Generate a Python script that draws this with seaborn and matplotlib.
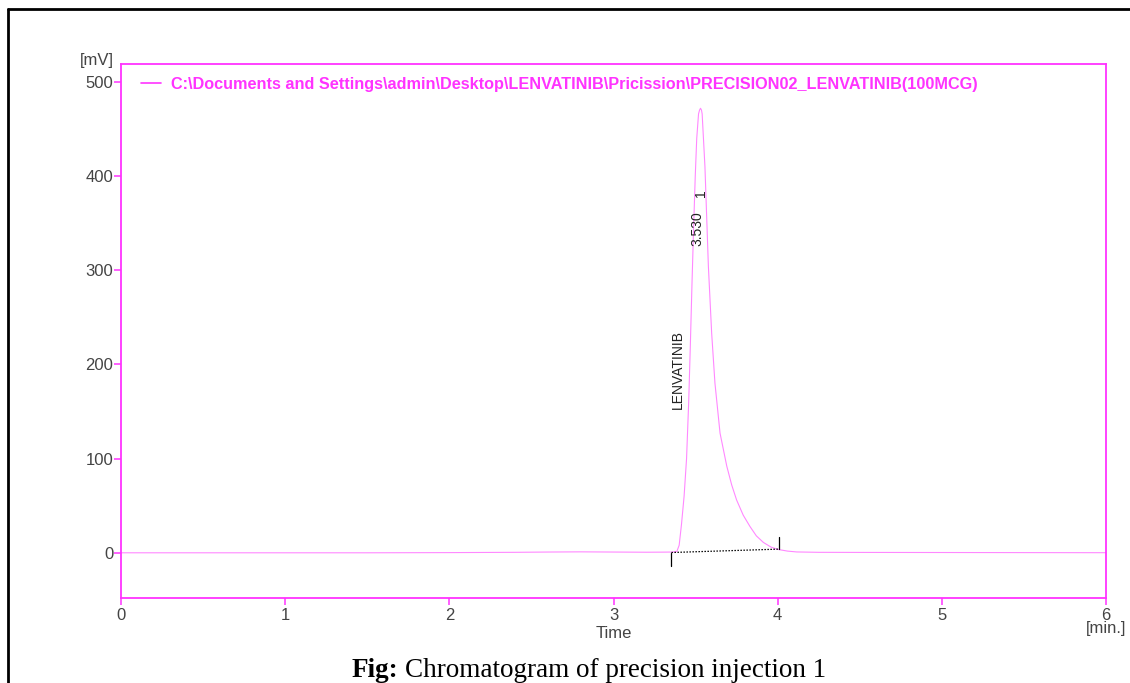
import matplotlib
matplotlib.use("Agg")
import matplotlib.pyplot as plt
from matplotlib.lines import Line2D
import seaborn as sns
import pandas as pd

# ---- data ----
time_min = [0.0, 0.5, 1.0, 1.5, 2.0, 2.4, 2.6, 2.8, 3.0, 3.2, 3.3, 3.36,
            3.386, 3.40, 3.414, 3.43, 3.445, 3.458, 3.468, 3.478, 3.488,
            3.498, 3.507, 3.518, 3.524, 3.530, 3.536, 3.540, 3.557, 3.578,
            3.598, 3.618, 3.649, 3.690, 3.720, 3.750, 3.790, 3.831, 3.870,
            3.913, 3.960, 4.004, 4.060, 4.116, 4.25, 4.5, 5.0, 5.5, 6.0]
signal_mv = [0.0, 0.0, 0.0, 0.0, 0.2, 0.5, 0.8, 1.0, 0.8, 0.6, 0.7, 0.8,
             1.5, 8, 30, 60, 100, 160, 220, 285, 345,
             400, 440, 466, 470, 472, 470, 466, 410, 304,
             233, 180, 127, 92, 72, 56, 40, 28, 18,
             11, 6, 3.5, 1.8, 0.9, 0.5, 0.4, 0.3, 0.2, 0.1]

legend_label = r"C:\Documents and Settings\admin\Desktop\LENVATINIB\Pricission\PRECISION02_LENVATINIB(100MCG)"
peak_name = "LENVATINIB"
peak_rt = "3.530"
peak_no = "1"
baseline_t = [3.353, 4.007]
baseline_v = [0.3, 3.9]
x_ticks = [0, 1, 2, 3, 4, 5, 6]
y_ticks = [0, 100, 200, 300, 400, 500]

MAG = "#ff33ff"
TRACE = "#ff88ff"
TXT = "#444444"

sns.set_theme(style="white")
plt.rcParams["font.family"] = ["Liberation Sans", "DejaVu Sans"]

fig = plt.figure(figsize=(11.30, 6.83), dpi=100)
ax = fig.add_axes([121/1130, 1-598/683, (1106-121)/1130, (598-64)/683])

df = pd.DataFrame({"Time": time_min, "Signal": signal_mv})
sns.lineplot(data=df, x="Time", y="Signal", ax=ax, color=TRACE, lw=0.8,
             sort=False, estimator=None, label=legend_label)

# integration baseline and peak markers
ax.plot(baseline_t, baseline_v, color="black", lw=0.9, ls=(0, (1.2, 1.2)))
ax.plot([baseline_t[0]] * 2, [baseline_v[0], -14.5], color="black", lw=0.9)
ax.plot([baseline_t[1]] * 2, [baseline_v[1], 17.3], color="black", lw=0.9)

ax.text(3.514, 344, peak_rt, rotation=90, ha="center", va="center",
        fontsize=10, color="#222222")
ax.text(3.530, 382, peak_no, rotation=90, ha="center", va="center",
        fontsize=10, color="#222222")
ax.text(3.392, 195, peak_name, rotation=90, ha="center", va="center",
        fontsize=10, color="#222222")

ax.set_xlim(0, 6)
ax.set_ylim(-48, 519)
ax.set_xticks(x_ticks)
ax.set_yticks(y_ticks)
ax.set_xlabel("")
ax.set_ylabel("")
for s in ax.spines.values():
    s.set_color(MAG)
    s.set_linewidth(1.3)
    s.set_visible(True)
ax.tick_params(axis="both", which="major", direction="out", length=5,
               width=1.1, color=MAG, labelcolor=TXT, labelsize=12,
               bottom=True, left=True)
ax.tick_params(axis="x", pad=2.0)
ax.tick_params(axis="y", pad=0.5)

leg = ax.legend(loc="upper left", bbox_to_anchor=(20/985, 1-12.5/534),
                frameon=False, borderpad=0, borderaxespad=0,
                handlelength=1.25, handletextpad=0.62,
                prop={"weight": "bold", "size": 11.7})
for t in leg.get_texts():
    t.set_color(MAG)
for h in leg.get_lines():
    h.set_color(MAG)
    h.set_linewidth(1.2)

fig.text(97/1130, 1-60/683, "[mV]", ha="center", va="center", fontsize=12, color=TXT)
fig.text(614/1130, 1-633/683, "Time", ha="center", va="center", fontsize=12, color=TXT)
fig.text(1106/1130, 1-629/683, "[min.]", ha="center", va="center", fontsize=12, color=TXT)

# caption
serif = ["Liberation Serif", "DejaVu Serif"]
fig.text(398/1130, 1-677/683, "Fig:", ha="right", va="baseline", fontsize=19.5,
         fontweight="bold", family=serif, color="black")
fig.text(405/1130, 1-677/683, "Chromatogram of precision injection 1", ha="left",
         va="baseline", fontsize=19.5, family=serif, color="black")

# outer frame (left and top borders)
fig.add_artist(Line2D([8/1130, 8/1130], [0, 1-9/683], transform=fig.transFigure,
                      color="black", lw=2.0))
fig.add_artist(Line2D([8/1130, 1], [1-9/683, 1-9/683], transform=fig.transFigure,
                      color="black", lw=2.0))

fig.savefig("out.png", dpi=100)
